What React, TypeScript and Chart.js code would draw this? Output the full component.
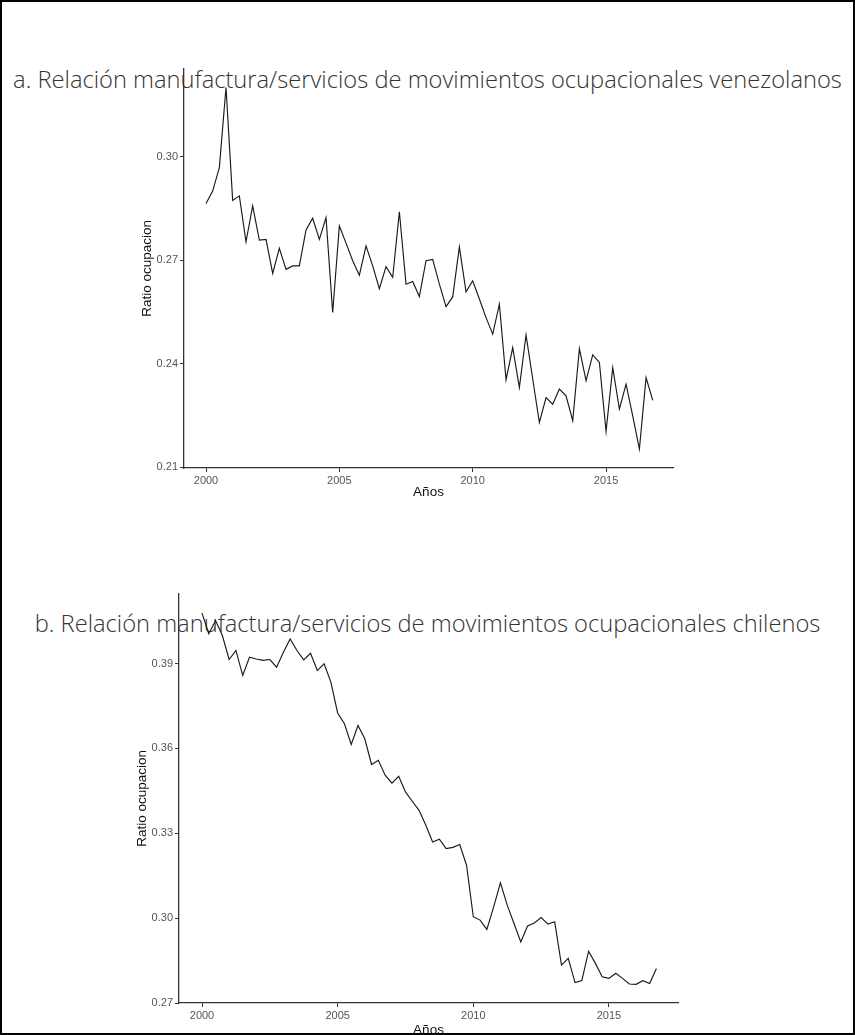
import React, { useEffect, useRef } from "react";
import { Chart, registerables } from "chart.js";

Chart.register(...registerables);

const periods = [
  2000, 2000.25, 2000.5, 2000.75, 2001, 2001.25, 2001.5, 2001.75,
  2002, 2002.25, 2002.5, 2002.75, 2003, 2003.25, 2003.5, 2003.75,
  2004, 2004.25, 2004.5, 2004.75, 2005, 2005.25, 2005.5, 2005.75,
  2006, 2006.25, 2006.5, 2006.75, 2007, 2007.25, 2007.5, 2007.75,
  2008, 2008.25, 2008.5, 2008.75, 2009, 2009.25, 2009.5, 2009.75,
  2010, 2010.25, 2010.5, 2010.75, 2011, 2011.25, 2011.5, 2011.75,
  2012, 2012.25, 2012.5, 2012.75, 2013, 2013.25, 2013.5, 2013.75,
  2014, 2014.25, 2014.5, 2014.75, 2015, 2015.25, 2015.5, 2015.75,
  2016, 2016.25, 2016.5, 2016.75,
];

const venezuelaRatio = [
  0.2865, 0.2901, 0.2969, 0.3201, 0.2874, 0.2887, 0.2754, 0.2858,
  0.2759, 0.2761, 0.2662, 0.2735, 0.2674, 0.2684, 0.2684, 0.2788,
  0.2822, 0.2761, 0.2824, 0.2549, 0.28, 0.275, 0.2699, 0.2657,
  0.2742, 0.2684, 0.2618, 0.2682, 0.2651, 0.2841, 0.2631, 0.2639,
  0.2595, 0.2699, 0.2703, 0.2631, 0.2566, 0.2594, 0.2739, 0.2609,
  0.2641, 0.2588, 0.2534, 0.2486, 0.2573, 0.2354, 0.2447, 0.2331,
  0.2484, 0.2356, 0.223, 0.2302, 0.2283, 0.2327, 0.2307, 0.2235,
  0.2444, 0.2351, 0.2426, 0.2404, 0.2204, 0.2389, 0.2269, 0.2341,
  0.2249, 0.2153, 0.236, 0.2294,
];

const chileRatio = [
  0.4078, 0.4005, 0.4052, 0.3999, 0.3914, 0.3946, 0.3858, 0.3922,
  0.3916, 0.3911, 0.3914, 0.3887, 0.394, 0.3987, 0.3946, 0.3913,
  0.3936, 0.3875, 0.3899, 0.3834, 0.3725, 0.3687, 0.3614, 0.3681,
  0.3634, 0.3543, 0.3558, 0.3505, 0.3477, 0.3501, 0.3446, 0.3413,
  0.3381, 0.3328, 0.3269, 0.3279, 0.3246, 0.325, 0.326, 0.3187,
  0.3005, 0.2993, 0.296, 0.304, 0.3125, 0.3046, 0.2981, 0.2916,
  0.2972, 0.2983, 0.3002, 0.2979, 0.2987, 0.2834, 0.2858, 0.2772,
  0.2779, 0.2883, 0.284, 0.2793, 0.2787, 0.2805, 0.2787, 0.2767,
  0.2766, 0.2779, 0.2769, 0.2822,
];

const xTicks = [2000, 2005, 2010, 2015];
const yTicksVE = [0.21, 0.24, 0.27, 0.3];
const yTicksCL = [0.27, 0.3, 0.33, 0.36, 0.39];

const titleVE = "a. Relación manufactura/servicios de movimientos ocupacionales venezolanos";
const titleCL = "b. Relación manufactura/servicios de movimientos ocupacionales chilenos";
const yTitle = "Ratio ocupacion";
const xTitle = "Años";

type Geo = {
  left: number;
  top: number;
  width: number;
  height: number;
  yAxisWidth: number;
  xAxisHeight: number;
  padRight: number;
  padTop: number;
  yTitlePad: number;
  xTitlePad: number;
  xMin: number;
  xMax: number;
  yMin: number;
  yMax: number;
};

function LineChart({ values, yTicks, geo }: { values: number[]; yTicks: number[]; geo: Geo }) {
  const ref = useRef<HTMLCanvasElement | null>(null);
  useEffect(() => {
    if (!ref.current) return;
    const tickFont = { family: "'Liberation Sans', Arial, sans-serif", size: 11 };
    const titleFont = { family: "'Liberation Sans', Arial, sans-serif", size: 13.5 };
    const axisColor = "#333333";
    const chart = new Chart(ref.current, {
      type: "line",
      data: {
        datasets: [
          {
            data: periods.map((p, i) => ({ x: p, y: values[i] })),
            borderColor: "#1a1a1a",
            borderWidth: 1.15,
            pointRadius: 0,
            tension: 0,
            fill: false,
          },
        ],
      },
      options: {
        animation: false,
        responsive: false,
        devicePixelRatio: 1,
        layout: { padding: { left: 0, right: geo.padRight, top: geo.padTop, bottom: 0 } },
        plugins: { legend: { display: false }, tooltip: { enabled: false }, title: { display: false } },
        scales: {
          x: {
            type: "linear",
            min: geo.xMin,
            max: geo.xMax,
            afterFit: (s: any) => {
              s.height = geo.xAxisHeight;
            },
            afterBuildTicks: (s: any) => {
              s.ticks = xTicks.map((v) => ({ value: v }));
            },
            grid: { drawOnChartArea: false, drawTicks: true, tickLength: 4, color: axisColor, lineWidth: 1 },
            border: { display: true, color: axisColor, width: 1.3 },
            ticks: {
              font: tickFont,
              color: "#555555",
              padding: 2,
              maxRotation: 0,
              autoSkip: false,
              callback: (v: any) => String(v),
            },
            title: {
              display: true,
              text: xTitle,
              font: titleFont,
              color: "#111111",
              padding: { top: 0, bottom: geo.xTitlePad },
            },
          },
          y: {
            type: "linear",
            min: geo.yMin,
            max: geo.yMax,
            afterFit: (s: any) => {
              s.width = geo.yAxisWidth;
            },
            afterBuildTicks: (s: any) => {
              s.ticks = yTicks.map((v) => ({ value: v }));
            },
            grid: { drawOnChartArea: false, drawTicks: true, tickLength: 4, color: axisColor, lineWidth: 1 },
            border: { display: true, color: axisColor, width: 1.3 },
            ticks: {
              font: tickFont,
              color: "#555555",
              padding: 2,
              autoSkip: false,
              callback: (v: any) => Number(v).toFixed(2),
            },
            title: {
              display: true,
              text: yTitle,
              font: titleFont,
              color: "#111111",
              padding: { top: geo.yTitlePad, bottom: 0 },
            },
          },
        },
      },
    } as any);
    return () => chart.destroy();
  }, [values, yTicks, geo]);
  return (
    <canvas
      ref={ref}
      width={geo.width}
      height={geo.height}
      style={{ position: "absolute", left: geo.left, top: geo.top, width: geo.width, height: geo.height }}
    />
  );
}

const geoVE: Geo = {
  left: 100,
  top: 60,
  width: 600,
  height: 450,
  yAxisWidth: 84,
  xAxisHeight: 42,
  padRight: 27,
  padTop: 7,
  yTitlePad: 39,
  xTitlePad: 10,
  xMin: 1999.175,
  xMax: 2017.51,
  yMin: 0.2098,
  yMax: 0.3256,
};

const geoCL: Geo = {
  left: 100,
  top: 585,
  width: 600,
  height: 460,
  yAxisWidth: 79,
  xAxisHeight: 42,
  padRight: 22,
  padTop: 8,
  yTitlePad: 34,
  xTitlePad: 7,
  xMin: 1999.152,
  xMax: 2017.545,
  yMin: 0.27,
  yMax: 0.4147,
};

const titleStyle: React.CSSProperties = {
  position: "absolute",
  left: 0,
  width: 855,
  textAlign: "center",
  fontFamily: "'Open Sans', sans-serif",
  fontSize: 23.7,
  fontWeight: 300,
  lineHeight: "28px",
  color: "#333333",
  whiteSpace: "nowrap",
};

export default function App() {
  return (
    <div style={{ position: "absolute", left: 0, top: 0, width: 855, height: 1035, background: "#fff", overflow: "hidden" }}>
      <div style={{ ...titleStyle, top: 65 }}>{titleVE}</div>
      <LineChart values={venezuelaRatio} yTicks={yTicksVE} geo={geoVE} />
      <div style={{ ...titleStyle, top: 609 }}>{titleCL}</div>
      <LineChart values={chileRatio} yTicks={yTicksCL} geo={geoCL} />
      <div
        style={{
          position: "absolute",
          left: 0,
          top: 0,
          width: 855,
          height: 1035,
          boxSizing: "border-box",
          border: "2px solid #000",
          pointerEvents: "none",
        }}
      />
    </div>
  );
}
